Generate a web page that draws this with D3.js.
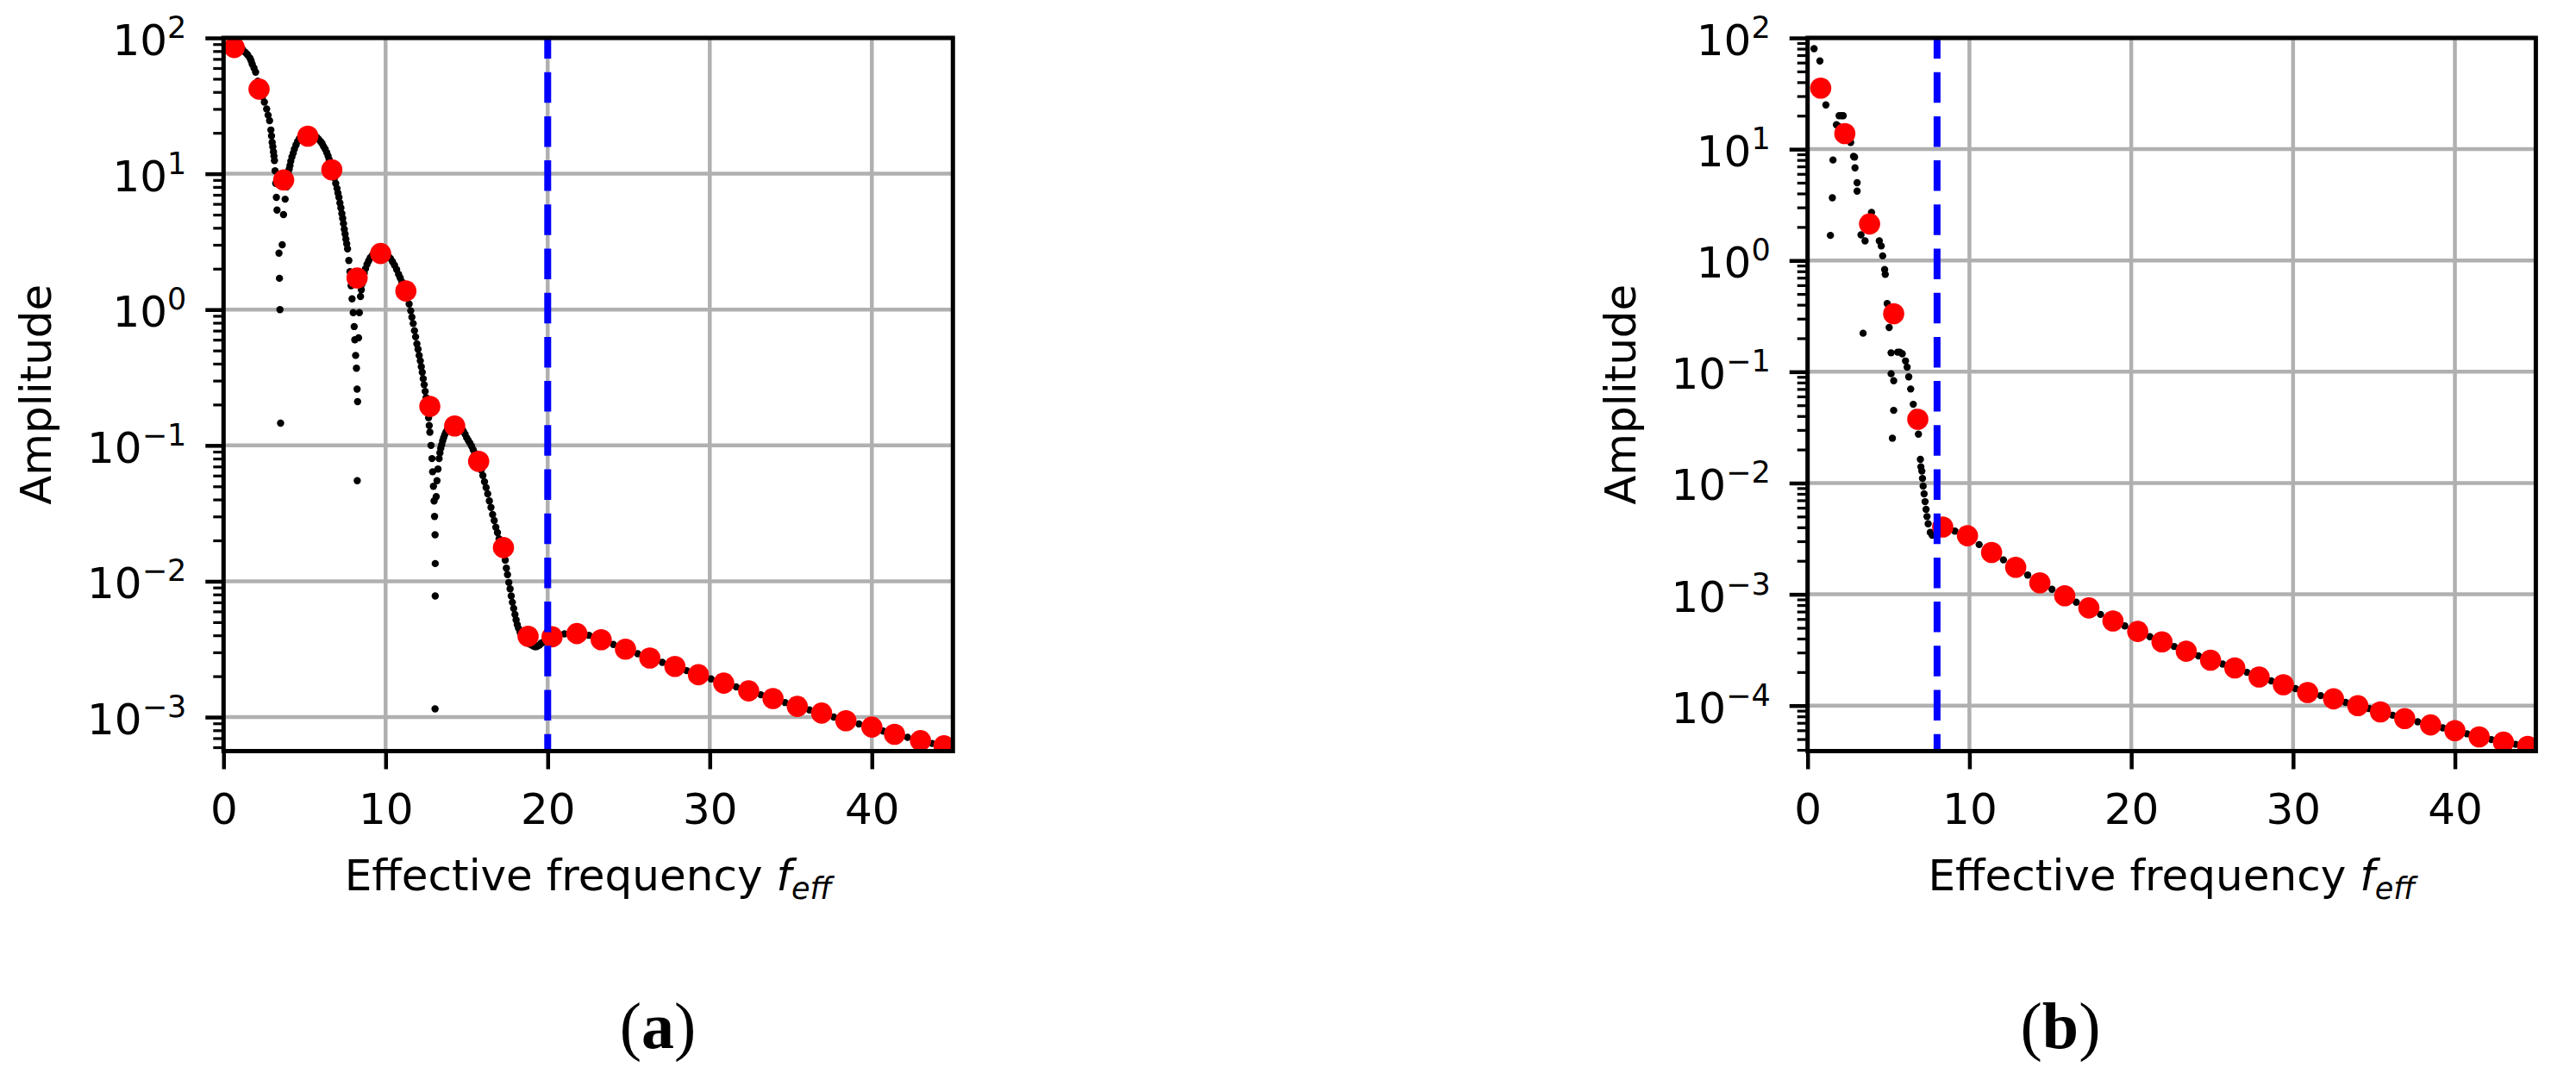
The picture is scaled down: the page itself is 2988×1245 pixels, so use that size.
<!DOCTYPE html>
<html>
<head>
<meta charset="utf-8">
<script src="https://cdn.jsdelivr.net/npm/d3@7"></script>
<style>
  body { margin: 0; background: #fff; }
  text { font-family: "DejaVu Sans", sans-serif; fill: #000; }
</style>
</head>
<body>
<svg id="fig" width="2988" height="1245"></svg>
<script>
// ---- data ----
var xTicks = [0, 10, 20, 30, 40];
var yTicksA = [1e2, 1e1, 1e0, 1e-1, 1e-2, 1e-3];
var yTicksB = [1e2, 1e1, 1e0, 1e-1, 1e-2, 1e-3, 1e-4];
var cutoffA = 20, cutoffB = 8;

// panel (a): red samples
var redFreqA = [0.66, 2.19, 3.71, 5.2, 6.68, 8.24, 9.69, 11.25, 12.73, 14.26, 15.74, 17.27, 18.79, 20.27, 21.8,
  23.3, 24.8, 26.3, 27.85, 29.3, 30.86, 32.4, 33.9, 35.4, 36.9, 38.4, 40.0, 41.4, 43.0, 44.45];
var redAmpA = [85, 42, 9.0, 18.9, 10.7, 1.71, 2.59, 1.37, 0.194, 0.139, 0.0764, 0.0177, 0.00394, 0.0039, 0.00412,
  0.00371, 0.00316, 0.00272, 0.00236, 0.00205, 0.00178, 0.00156, 0.00137, 0.0012, 0.00107, 0.00094, 0.000845,
  0.000747, 0.000671, 0.000615];

// panel (a): black dense samples
var blackFreqA = [0.55, 0.75, 0.95, 1.15, 1.3, 1.49, 1.63, 1.77, 1.98, 2.12, 2.4, 2.52, 2.66, 2.75, 2.84, 2.92, 3.0,
  3.08, 3.14, 3.18, 3.22, 3.26, 3.3, 3.42, 3.45, 3.48, 3.52, 3.62, 3.7, 3.8, 3.9,
  4.0, 4.1, 4.22, 4.37, 4.57, 4.8, 5.0, 5.2, 5.47, 5.74, 5.98, 6.17, 6.37, 6.52, 6.68, 6.84, 7.0, 7.12, 7.24,
  7.35, 7.45, 7.55, 7.65, 7.73, 7.8, 7.87, 7.93, 8.0, 8.06, 8.1, 8.15, 8.2, 8.24, 8.27, 8.25,
  8.33, 8.38, 8.45, 8.55, 8.68, 8.85, 9.05, 9.3, 9.55, 9.8, 10.05, 10.3, 10.55, 10.8, 11.0, 11.25, 11.45, 11.62,
  11.78, 11.93, 12.07, 12.2, 12.32, 12.44, 12.55, 12.65, 12.73, 12.8, 12.86, 12.9, 12.95, 12.99, 13.02, 13.05,
  13.06, 13.06, 13.05,
  13.12, 13.17, 13.23, 13.3, 13.4, 13.52, 13.65, 13.8, 14.0, 14.2, 14.4, 14.6, 14.8, 15.0, 15.2, 15.4, 15.6,
  15.8, 16.0, 16.2, 16.4, 16.6, 16.8, 17.0, 17.15, 17.3, 17.45, 17.6, 17.75, 17.9, 18.05, 18.2, 18.4, 18.6,
  18.8, 19.0, 19.2, 19.4, 19.6, 19.8, 20.0,
  20.5, 21.03, 22.55, 24.05, 25.55, 27.07, 28.57, 30.08, 31.63, 33.15, 34.65, 36.15, 37.65, 39.2, 40.7, 42.2,
  43.72, 45.0,
  // extra samples on the steep flanks
  1.06, 1.4, 1.7, 1.88, 2.96, 3.04, 3.11, 3.95, 4.05, 4.15, 4.3, 4.47, 4.68, 4.9, 5.1, 5.33, 5.6, 5.86, 6.08,
  6.27, 6.45, 6.6, 6.76, 6.92, 7.06, 7.18, 7.3, 7.4, 7.5, 7.6, 8.5, 8.62, 8.76, 8.95, 9.17, 9.42, 9.67, 9.92,
  10.17, 10.42, 10.68, 10.9, 11.12, 11.35, 11.55, 11.7, 11.85, 12.0, 12.14, 12.26, 12.38, 12.5, 12.6, 12.69,
  13.35, 13.46, 13.58, 13.72, 13.9, 14.1, 14.3, 14.5, 14.7, 14.9, 15.1, 15.3, 15.5, 15.7, 15.9, 16.1, 16.3,
  16.5, 16.7, 16.9, 17.08, 17.22, 17.38, 17.52, 17.68, 17.82, 17.98, 18.12, 18.3, 18.5, 18.7, 18.9, 19.1,
  19.3, 19.5, 19.7, 19.9, 20.15];
var blackAmpA = [97, 92, 88, 83, 79, 75, 71, 64, 56, 48, 37, 33.7, 30, 27, 24.6, 21, 17,
  14.5, 12.5, 10.5, 8.5, 6.7, 5.4, 2.6, 1.7, 1.0, 0.146, 3.0, 5.0, 6.5, 8.0,
  10, 11.5, 13.3, 15.2, 17.3, 18.9, 19.6, 19.9, 19.5, 18.6, 17.3, 15.9, 14.3, 12.7, 10.9, 9.3, 7.8, 6.7, 5.6,
  4.7, 3.9, 3.3, 2.8, 2.3, 1.9, 1.5, 1.2, 0.95, 0.75, 0.6, 0.46, 0.37, 0.26, 0.21, 0.055,
  0.62, 0.95, 1.25, 1.55, 1.85, 2.15, 2.4, 2.58, 2.66, 2.64, 2.55, 2.38, 2.12, 1.82, 1.6, 1.37, 1.1, 0.88,
  0.7, 0.56, 0.46, 0.38, 0.31, 0.25, 0.2, 0.16, 0.125, 0.1, 0.08, 0.064, 0.05, 0.039, 0.03, 0.022,
  0.0135, 0.0078, 0.00115,
  0.042, 0.055, 0.067, 0.08, 0.095, 0.108, 0.12, 0.13, 0.138, 0.142, 0.141, 0.136, 0.127, 0.114, 0.104, 0.093, 0.082,
  0.071, 0.06, 0.049, 0.039, 0.031, 0.025, 0.0205, 0.0185, 0.016, 0.0125, 0.0098, 0.0078, 0.0063, 0.0052, 0.0045,
  0.004, 0.0037, 0.0035, 0.0034, 0.0033, 0.00335, 0.0035, 0.0036, 0.0037,
  0.0039, 0.0041, 0.0040, 0.00343, 0.00293, 0.00253, 0.0022, 0.00191, 0.00167, 0.00146, 0.00128, 0.00113, 0.001,
  0.00089, 0.00079, 0.00071, 0.00064, 0.0006,
  // extra samples on the steep flanks
  85, 77, 68, 60, 19, 15.8, 13.5, 9.0, 10.8, 12.4, 14.2, 16.3, 18.2, 19.3, 19.8, 19.8, 19.1, 18.0, 16.7,
  15.2, 13.5, 11.8, 10.1, 8.5, 7.2, 6.1, 5.1, 4.3, 3.6, 3.05, 1.4, 1.7, 2.0, 2.28, 2.5, 2.62, 2.66, 2.6,
  2.47, 2.26, 1.97, 1.71, 1.48, 1.24, 0.98, 0.79, 0.63, 0.51, 0.42, 0.345, 0.28, 0.225, 0.18, 0.14,
  0.088, 0.101, 0.114, 0.125, 0.134, 0.14, 0.142, 0.139, 0.132, 0.121, 0.109, 0.099, 0.088, 0.077, 0.066, 0.054, 0.044,
  0.035, 0.028, 0.0228, 0.0195, 0.0172, 0.0143, 0.0112, 0.0088, 0.007, 0.0057, 0.0048, 0.0042, 0.0038, 0.0036,
  0.00345, 0.00335, 0.0033, 0.0034, 0.00355, 0.00365, 0.0038];

// panel (b): red samples
var redFreqB = [0.81, 2.3, 3.83, 5.32, 6.81, 8.35, 9.88, 11.37, 12.86, 14.35, 15.89, 17.38, 18.87, 20.4, 21.9,
  23.4, 24.9, 26.4, 27.9, 29.4, 30.9, 32.5, 34.0, 35.4, 36.9, 38.5, 40.0, 41.5, 43.0, 44.5];
var redAmpB = [35.4, 13.8, 2.13, 0.332, 0.0374, 0.00403, 0.00336, 0.00238, 0.00175, 0.00127, 0.00097, 0.000755,
  0.000576, 0.000464, 0.000374, 0.000308, 0.000256, 0.000218, 0.000181, 0.000154, 0.000131, 0.000115, 0.0001,
  0.0000879, 0.0000764, 0.000067, 0.0000595, 0.0000523, 0.0000469, 0.000043];

// panel (b): black samples
var blackFreqB = [0.4, 0.76, 1.13, 1.41, 1.53, 1.57, 1.78, 1.9, 1.95, 2.1, 2.2, 2.66, 2.84, 2.9, 2.93, 3.06, 3.06,
  3.3, 3.43, 3.55, 3.7, 3.95, 4.1, 4.23, 4.43, 4.55, 4.64, 4.76, 4.8, 4.92, 5.04, 5.16, 5.16, 5.24, 5.32, 5.32,
  5.56, 5.7, 5.85, 6.05, 6.15, 6.25, 6.37, 6.53, 6.65, 6.85, 6.97, 7.0, 7.06, 7.1, 7.14, 7.2, 7.26, 7.32, 7.38,
  7.45, 7.58, 7.7, 7.86, 8.0, 8.2,
  9.1, 10.6, 12.1, 13.6, 15.1, 16.6, 18.1, 19.6, 21.15, 22.65, 24.15, 25.65, 27.15, 28.65, 30.15, 31.7, 33.25,
  34.7, 36.15, 37.7, 39.25, 40.75, 42.25, 43.75, 45.0];
var blackAmpB = [80, 62, 25, 1.68, 3.66, 8.0, 16.6, 16.1, 20, 20, 20, 11.5, 8.6, 8.5, 6.8, 5.0, 4.2,
  1.7, 0.222, 1.5, 2.3, 2.7, 2.3, 2.1, 1.5, 1.35, 1.1, 0.83, 0.75, 0.41, 0.25, 0.148, 0.096, 0.0253, 0.083, 0.045,
  0.15, 0.15, 0.145, 0.125, 0.11, 0.09, 0.07, 0.051, 0.043, 0.0275, 0.0163, 0.014, 0.0128, 0.011, 0.0094, 0.008,
  0.0068, 0.0058, 0.005, 0.0043, 0.0036, 0.0034, 0.0034, 0.0036, 0.0039,
  0.0037, 0.0028, 0.00204, 0.00149, 0.00111, 0.00085, 0.00066, 0.00052, 0.000416, 0.00034, 0.00028, 0.000236,
  0.000199, 0.000167, 0.000142, 0.000123, 0.000107, 0.000094, 0.000082, 0.0000716, 0.0000632, 0.0000558,
  0.0000495, 0.0000449, 0.000041];

// ---- layout ----
var svg = d3.select('#fig');
svg.append('rect').attr('width', 2988).attr('height', 1245).attr('fill', '#fff');

var panels = [
  { id: 'a', left: 259.3, right: 1105.3, ymin: 5.62e-4, yTicks: yTicksA, cutoff: cutoffA,
    redX: redFreqA, redY: redAmpA, blackX: blackFreqA, blackY: blackAmpA, labelX: 59, caption: 'a', capX: 763 },
  { id: 'b', left: 2096.7, right: 2941.4, ymin: 3.9e-5, yTicks: yTicksB, cutoff: cutoffB,
    redX: redFreqB, redY: redAmpB, blackX: blackFreqB, blackY: blackAmpB, labelX: 1897, caption: 'b', capX: 2390 }
];
var plotTop = 44, plotBottom = 871.5;

function minorTicks(lo, hi) {
    var out = [], d, m, v;
    for (d = Math.floor(Math.log10(lo)); d < Math.ceil(Math.log10(hi)); d++) {
        for (m = 2; m <= 9; m++) {
            v = m * Math.pow(10, d);
            if (v >= lo && v <= hi) { out.push(v); }
        }
    }
    return out;
}

function drawPanel(p) {
    var x = d3.scaleLinear().domain([0, 45]).range([p.left, p.right]),
        y = d3.scaleLog().domain([p.ymin, 100]).range([plotBottom, plotTop]),
        g = svg.append('g').attr('class', 'panel-' + p.id),
        clipId = 'clip-' + p.id;

    g.append('clipPath').attr('id', clipId).append('rect')
        .attr('x', p.left).attr('y', plotTop)
        .attr('width', p.right - p.left).attr('height', plotBottom - plotTop);

    // grid
    var grid = g.append('g').attr('class', 'grid');
    grid.selectAll('line.xgrid').data(xTicks).enter().append('line')
        .attr('class', 'xgrid')
        .attr('x1', x).attr('x2', x)
        .attr('y1', plotTop).attr('y2', plotBottom);
    grid.selectAll('line.ygrid').data(p.yTicks).enter().append('line')
        .attr('class', 'ygrid')
        .attr('x1', p.left).attr('x2', p.right)
        .attr('y1', y).attr('y2', y);
    grid.selectAll('line').attr('stroke', '#b0b0b0').attr('stroke-width', 4.5);

    var pts = g.append('g').attr('clip-path', 'url(#' + clipId + ')');
    // black dense samples
    pts.append('g').selectAll('circle').data(d3.range(p.blackX.length)).enter().append('circle')
        .attr('cx', function (i) { return x(p.blackX[i]); })
        .attr('cy', function (i) { return y(p.blackY[i]); })
        .attr('r', 4.2)
        .attr('fill', '#000');
    // red samples
    pts.append('g').selectAll('circle').data(d3.range(p.redX.length)).enter().append('circle')
        .attr('cx', function (i) { return x(p.redX[i]); })
        .attr('cy', function (i) { return y(p.redY[i]); })
        .attr('r', 12.3)
        .attr('fill', '#ff0000');
    // cutoff line
    pts.append('line')
        .attr('x1', x(p.cutoff)).attr('x2', x(p.cutoff))
        .attr('y1', plotTop).attr('y2', plotBottom)
        .attr('stroke', '#0000ff').attr('stroke-width', 8)
        .attr('stroke-dasharray', '35.5 15.7')
        .attr('stroke-dashoffset', 11.5);

    // axes ticks
    var xAxis = g.append('g').attr('transform', 'translate(0,' + plotBottom + ')')
        .call(d3.axisBottom(x).tickValues(xTicks).tickSize(21).tickPadding(28).tickSizeOuter(0)
              .tickFormat(d3.format('d')));
    xAxis.select('.domain').remove();
    xAxis.selectAll('line').attr('stroke-width', 4.5);
    xAxis.selectAll('text').style('font-size', '50px').attr('font-family', null);

    var yMinor = g.append('g').attr('transform', 'translate(' + p.left + ',0)')
        .call(d3.axisLeft(y).tickValues(minorTicks(p.ymin, 100)).tickSize(12).tickFormat(''));
    yMinor.select('.domain').remove();
    yMinor.selectAll('line').attr('stroke-width', 3.2);

    var yMajor = g.append('g').attr('transform', 'translate(' + p.left + ',0)')
        .call(d3.axisLeft(y).tickValues(p.yTicks).tickSize(21).tickFormat(''));
    yMajor.select('.domain').remove();
    yMajor.selectAll('line').attr('stroke-width', 4.5);

    // y tick labels 10^n
    var lab = g.append('g').selectAll('text').data(p.yTicks).enter().append('text')
        .attr('x', p.left - 43)
        .attr('y', function (d) { return y(d) + 20; })
        .attr('text-anchor', 'end')
        .style('font-size', '50px');
    lab.append('tspan').text('10');
    lab.append('tspan')
        .attr('dy', -20)
        .style('font-size', '35px')
        .text(function (d) {
            var e = Math.round(Math.log10(d));
            return e < 0 ? '\u2212' + (-e) : '' + e;
        });

    // frame
    g.append('rect')
        .attr('x', p.left).attr('y', plotTop)
        .attr('width', p.right - p.left).attr('height', plotBottom - plotTop)
        .attr('fill', 'none').attr('stroke', '#000').attr('stroke-width', 5);

    // axis labels
    var xl = g.append('text')
        .attr('x', (p.left + p.right) / 2).attr('y', 1033)
        .attr('text-anchor', 'middle')
        .style('font-size', '50px');
    xl.append('tspan').text('Effective frequency ');
    xl.append('tspan').style('font-style', 'italic').text('f');
    xl.append('tspan').attr('dy', 10).style('font-style', 'italic').style('font-size', '35px').text('eff');

    g.append('text')
        .attr('transform', 'translate(' + p.labelX + ',' + ((plotTop + plotBottom) / 2) + ') rotate(-90)')
        .attr('text-anchor', 'middle')
        .style('font-size', '50px')
        .text('Amplitude');

    // caption
    var cap = g.append('text')
        .attr('x', p.capX).attr('y', 1216)
        .attr('text-anchor', 'middle')
        .style('font-family', '"Liberation Serif", serif')
        .style('font-size', '76px');
    cap.append('tspan').text('(');
    cap.append('tspan').style('font-weight', 'bold').text(p.caption);
    cap.append('tspan').text(')');
}

panels.forEach(drawPanel);
</script>
</body>
</html>
